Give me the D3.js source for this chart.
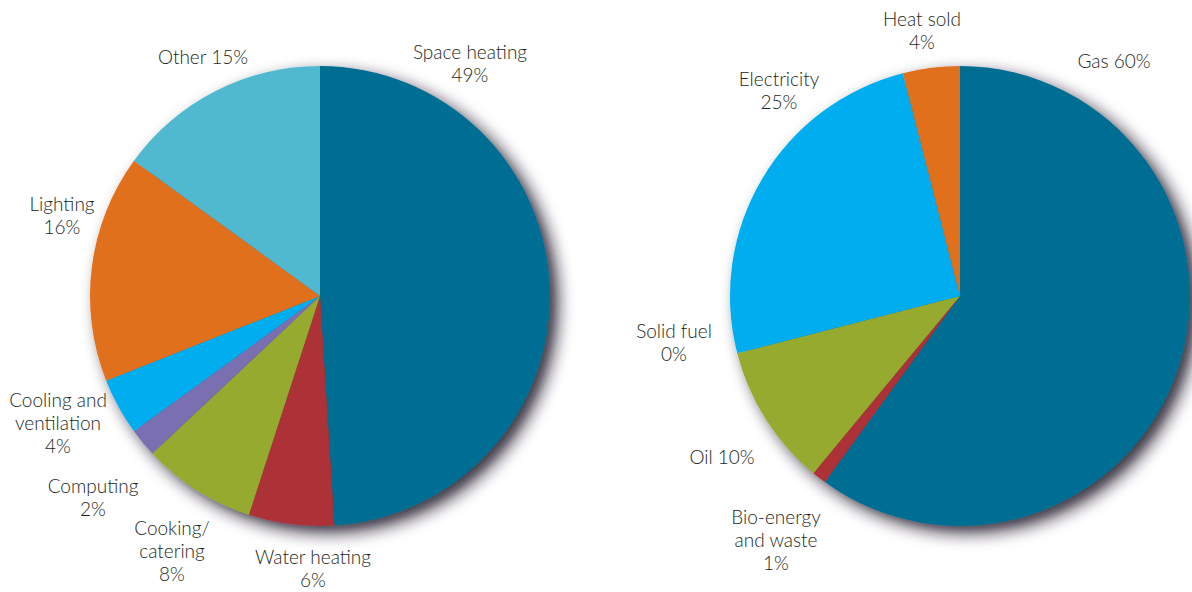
<!DOCTYPE html>
<html>
<head>
<meta charset="utf-8">
<script src="https://cdn.jsdelivr.net/npm/d3@7"></script>
<style>
  html, body { margin: 0; padding: 0; background: #fff; }
  svg text { font-family: Lato, "Open Sans", sans-serif; font-weight: 300; font-size: 19px; fill: #231f20; }
</style>
</head>
<body>
<script>
const width = 1192;
const height = 592;

// left pie: energy use by end use
const useCategories = ["Space heating", "Water heating", "Cooking/catering", "Computing", "Cooling and ventilation", "Lighting", "Other"];
const useValues = [49, 6, 8, 2, 4, 16, 15];
const useColors = ["#006e93", "#ad3137", "#95aa2e", "#7a6fb1", "#00aeef", "#e1701f", "#51b9cf"];
const useLabels = [["Space heating", "49%"], ["Water heating", "6%"], ["Cooking/", "catering", "8%"], ["Computing", "2%"], ["Cooling and", "ventilation", "4%"], ["Lighting", "16%"], ["Other 15%"]];

// right pie: energy use by fuel
const fuelCategories = ["Gas", "Bio-energy and waste", "Oil", "Solid fuel", "Electricity", "Heat sold"];
const fuelValues = [60, 1, 10, 0, 25, 4];
const fuelColors = ["#006e93", "#ad3137", "#95aa2e", "#7a6fb1", "#00aeef", "#e1701f"];
const fuelLabels = [["Gas 60%"], ["Bio-energy", "and waste", "1%"], ["Oil 10%"], ["Solid fuel", "0%"], ["Electricity", "25%"], ["Heat sold", "4%"]];

// where each label block sits (first baseline, relative to pie centre)
const useLabelAt = [[150, -237], [-7, 268], [-148, 239], [-227, 197], [-262, 111], [-258, -85], [-117, -232]];
const fuelLabelAt = [[154, -228], [-184, 228], [-238, 168], [-286, 42], [-181, -210], [-38, -270]];

const radius = 230;

const svg = d3.select("body").append("svg")
  .attr("width", width)
  .attr("height", height);

const defs = svg.append("defs");
const shadow = defs.append("filter")
  .attr("id", "shadow")
  .attr("x", "-20%").attr("y", "-20%")
  .attr("width", "140%").attr("height", "140%");
shadow.append("feDropShadow")
  .attr("dx", 8)
  .attr("dy", 7)
  .attr("stdDeviation", 8)
  .attr("flood-color", "#1c1828")
  .attr("flood-opacity", 0.9);

const pie = d3.pie().sort(null).value((d) => d);
const arc = d3.arc().innerRadius(0).outerRadius(radius);

function drawPie(cx, cy, categories, values, colors, labels, labelAt) {
  const g = svg.append("g").attr("transform", "translate(" + cx + "," + cy + ")");

  g.append("g")
    .attr("filter", "url(#shadow)")
    .selectAll("path")
    .data(pie(values))
    .enter()
    .append("path")
    .attr("d", arc)
    .attr("fill", (d, i) => colors[i])
    .attr("data-name", (d, i) => categories[i]);

  const lab = g.selectAll(".label")
    .data(labels)
    .enter()
    .append("text")
    .attr("class", "label")
    .attr("text-anchor", "middle")
    .attr("transform", (d, i) => "translate(" + labelAt[i][0] + "," + labelAt[i][1] + ")");

  lab.selectAll("tspan")
    .data((d) => d)
    .enter()
    .append("tspan")
    .attr("x", 0)
    .attr("dy", (d, i) => i === 0 ? 0 : 23)
    .text((d) => d);
}

drawPie(320, 296, useCategories, useValues, useColors, useLabels, useLabelAt);
drawPie(960, 296, fuelCategories, fuelValues, fuelColors, fuelLabels, fuelLabelAt);
</script>
</body>
</html>
